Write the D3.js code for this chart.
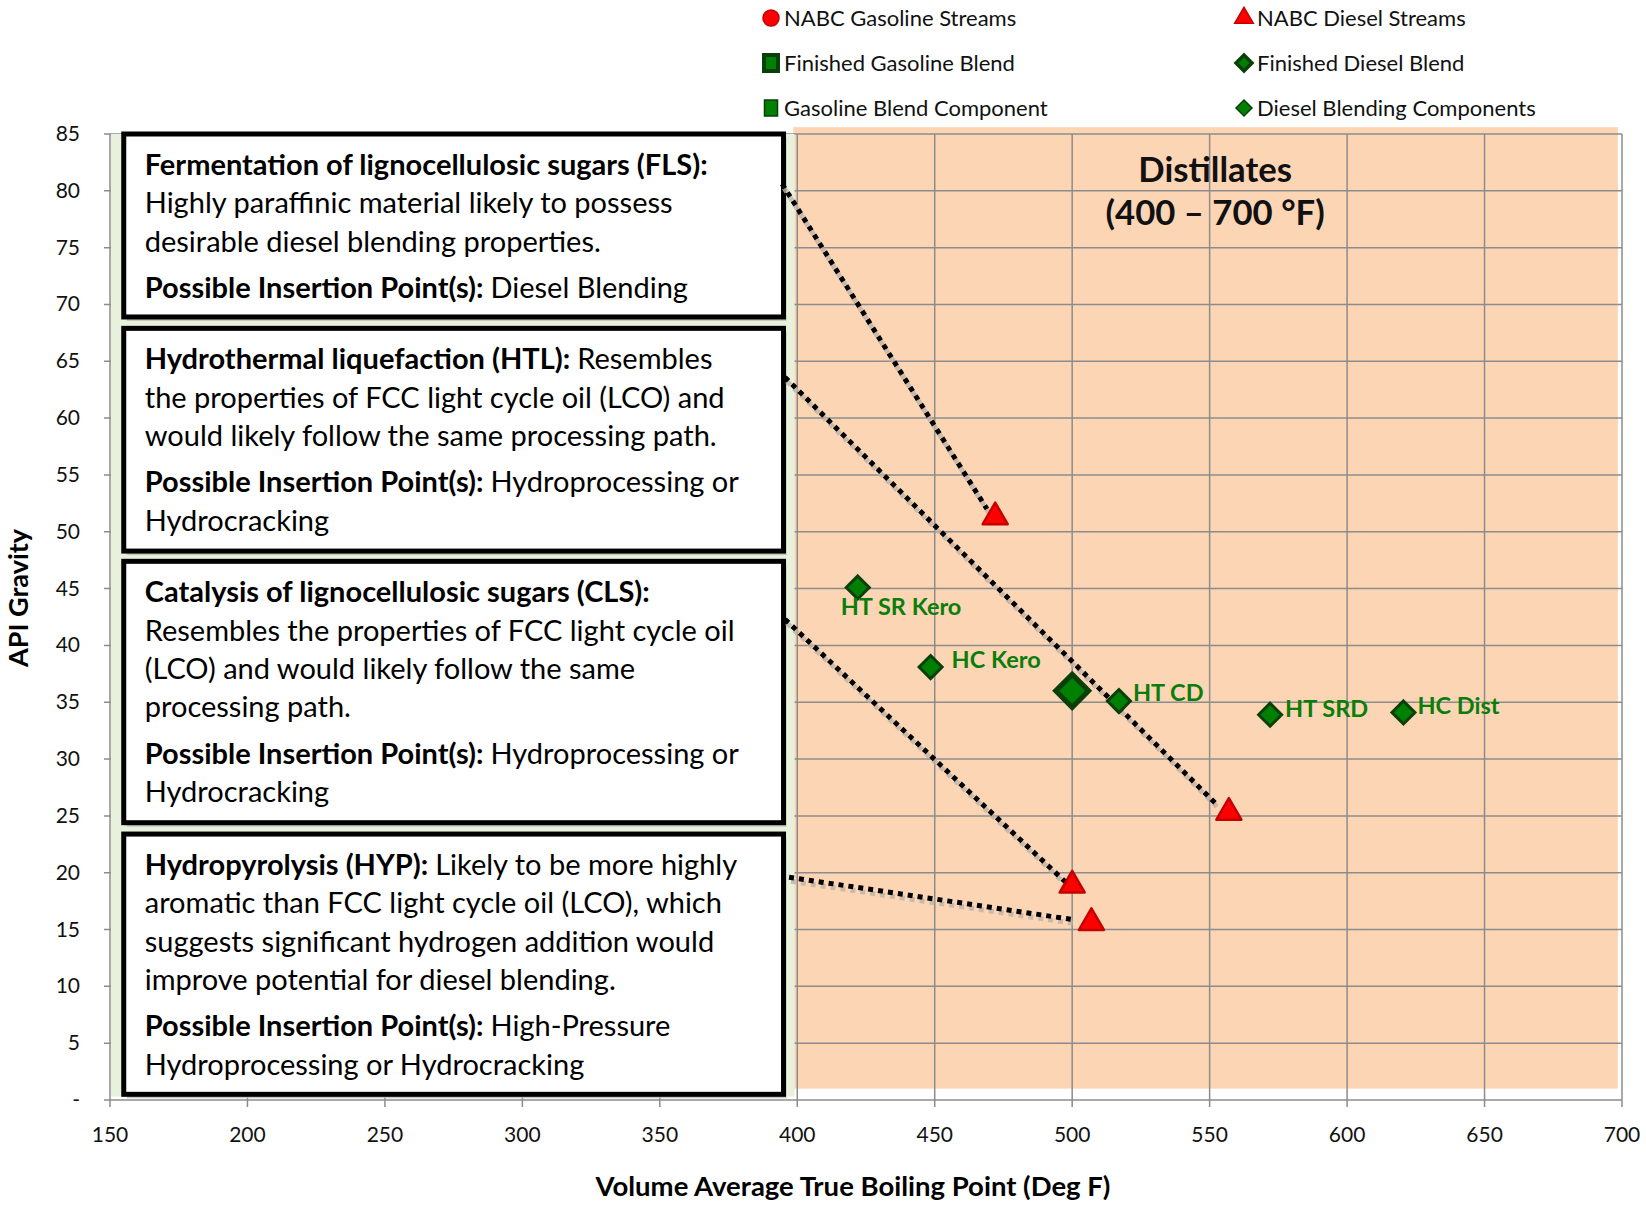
<!DOCTYPE html>
<html>
<head>
<meta charset="utf-8">
<script src="https://cdn.jsdelivr.net/npm/d3@7"></script>
<style>
  body { margin: 0; background: #fff; }
  text { font-family: Lato, "Open Sans", sans-serif; }
</style>
</head>
<body>
<svg width="1646" height="1206"></svg>
<script>
// ---- data ----
const xTicks = [150, 200, 250, 300, 350, 400, 450, 500, 550, 600, 650, 700];
const yTicks = [0, 5, 10, 15, 20, 25, 30, 35, 40, 45, 50, 55, 60, 65, 70, 75, 80, 85];

// NABC diesel streams (red triangles)
const dieselStreamX = [472, 557, 500, 507];
const dieselStreamY = [51.3, 25.3, 18.9, 15.6];

// finished diesel blend (large diamond)
const finishedDieselX = [500];
const finishedDieselY = [36.0];

// diesel blending components (small diamonds)
const componentNames = ["HT SR Kero", "HC Kero", "HT CD", "HT SRD", "HC Dist"];
const componentX = [422, 448.5, 517, 572, 620.5];
const componentY = [45.1, 38.1, 35.1, 33.9, 34.1];

// dotted connectors from the text boxes to the streams
const connectorFrom = [[394.5, 80.6], [395.5, 63.6], [395.5, 42.3], [397, 19.6]];
const connectorTo   = [[469, 52.0], [553, 25.9], [497.5, 19.2], [499.5, 15.9]];

// text boxes (data-space extents) and their contents
const boxX = [155, 395];
const boxY = [[85, 68.9], [67.9, 48.3], [47.4, 24.4], [23.4, 0.5]];
const boxLines = [
  [
    {p: 0, b: "Fermentation of lignocellulosic sugars (FLS):", t: ""},
    {p: 0, b: "", t: "Highly paraffinic material likely to possess"},
    {p: 0, b: "", t: "desirable diesel blending properties."},
    {p: 1, b: "Possible Insertion Point(s): ", t: "Diesel Blending"}
  ],
  [
    {p: 0, b: "Hydrothermal liquefaction (HTL): ", t: "Resembles"},
    {p: 0, b: "", t: "the properties of FCC light cycle oil (LCO) and"},
    {p: 0, b: "", t: "would likely follow the same processing path."},
    {p: 1, b: "Possible Insertion Point(s): ", t: "Hydroprocessing or"},
    {p: 1, b: "", t: "Hydrocracking"}
  ],
  [
    {p: 0, b: "Catalysis of lignocellulosic sugars (CLS):", t: ""},
    {p: 0, b: "", t: "Resembles the properties of FCC light cycle oil"},
    {p: 0, b: "", t: "(LCO) and would likely follow the same"},
    {p: 0, b: "", t: "processing path."},
    {p: 1, b: "Possible Insertion Point(s): ", t: "Hydroprocessing or"},
    {p: 1, b: "", t: "Hydrocracking"}
  ],
  [
    {p: 0, b: "Hydropyrolysis (HYP): ", t: "Likely to be more highly"},
    {p: 0, b: "", t: "aromatic than FCC light cycle oil (LCO), which"},
    {p: 0, b: "", t: "suggests significant hydrogen addition would"},
    {p: 0, b: "", t: "improve potential for diesel blending."},
    {p: 1, b: "Possible Insertion Point(s): ", t: "High-Pressure"},
    {p: 1, b: "", t: "Hydroprocessing or Hydrocracking"}
  ]
];

// shaded regions
const greenRegion = [150, 399, 0.3, 85];
const peachRegion = [398.5, 698.5, 1.0, 85.6];

const legendItems = [
  {label: "NABC Gasoline Streams", shape: "circle", col: 0, row: 0},
  {label: "NABC Diesel Streams", shape: "triangle", col: 1, row: 0},
  {label: "Finished Gasoline  Blend", shape: "bigsquare", col: 0, row: 1},
  {label: "Finished Diesel Blend", shape: "bigdiamond", col: 1, row: 1},
  {label: "Gasoline Blend Component", shape: "square", col: 0, row: 2},
  {label: "Diesel Blending Components", shape: "diamond", col: 1, row: 2}
];

// ---- chart ----
var svg = d3.select("svg"),
    width = +svg.attr("width"),
    height = +svg.attr("height");

var x = d3.scaleLinear().domain([150, 700]).range([110, 1622]),
    y = d3.scaleLinear().domain([0, 85]).range([1100, 134]);

const gridColor = "#8c8c8c",
      green = "#0b7d0b",
      darkGreen = "#0a3f0a",
      red = "#ff0000",
      darkRed = "#c40000";

// peach "distillates" band
svg.append("rect")
   .attr("x", x(peachRegion[0]))
   .attr("y", y(peachRegion[3]))
   .attr("width", x(peachRegion[1]) - x(peachRegion[0]))
   .attr("height", y(peachRegion[2]) - y(peachRegion[3]))
   .attr("fill", "#fcd5b5");

// gridlines
svg.append("g")
   .selectAll("line")
   .data(yTicks)
   .enter().append("line")
   .attr("x1", x(150) - 6).attr("x2", x(700))
   .attr("y1", d => y(d)).attr("y2", d => y(d))
   .attr("stroke", gridColor).attr("stroke-width", 1.5);

svg.append("g")
   .selectAll("line")
   .data(xTicks)
   .enter().append("line")
   .attr("x1", d => x(d)).attr("x2", d => x(d))
   .attr("y1", y(85)).attr("y2", y(0) + 7)
   .attr("stroke", gridColor).attr("stroke-width", 1.5);

// light green band behind the text boxes
svg.append("rect")
   .attr("x", x(greenRegion[0]) + 1)
   .attr("y", y(greenRegion[3]))
   .attr("width", x(greenRegion[1]) - x(greenRegion[0]) - 1)
   .attr("height", y(greenRegion[2]) - y(greenRegion[3]))
   .attr("fill", "#e8f1dc");

// axis tick labels
svg.append("g")
   .selectAll("text")
   .data(xTicks)
   .enter().append("text")
   .attr("x", d => x(d))
   .attr("y", 1142)
   .attr("text-anchor", "middle")
   .attr("font-size", 21)
   .attr("fill", "#111")
   .text(d => d);

svg.append("g")
   .selectAll("text")
   .data(yTicks)
   .enter().append("text")
   .attr("x", 80)
   .attr("y", d => y(d) + 7)
   .attr("text-anchor", "end")
   .attr("font-size", 21)
   .attr("fill", "#111")
   .text(d => d === 0 ? "-" : d);

// axis titles
svg.append("text")
   .attr("x", 853).attr("y", 1196)
   .attr("text-anchor", "middle")
   .attr("font-size", 27.5).attr("font-weight", "bold")
   .text("Volume Average True Boiling Point (Deg F)");

svg.append("text")
   .attr("transform", "translate(28,598) rotate(-90)")
   .attr("text-anchor", "middle")
   .attr("font-size", 27).attr("font-weight", "bold")
   .text("API Gravity");

// distillates label
var dist = svg.append("text")
   .attr("text-anchor", "middle")
   .attr("font-size", 34.7).attr("font-weight", "bold")
   .attr("fill", "#111");
dist.append("tspan").attr("x", x(552)).attr("y", 182).text("Distillates");
dist.append("tspan").attr("x", x(552)).attr("y", 225).text("(400 \u2013 700 \u00B0F)");

// text boxes
var boxes = svg.append("g")
   .selectAll("g")
   .data(boxY)
   .enter().append("g");

boxes.append("rect")
   .attr("x", x(boxX[0]) + 3)
   .attr("y", d => y(d[0]) + 4)
   .attr("width", x(boxX[1]) - x(boxX[0]))
   .attr("height", d => y(d[1]) - y(d[0]))
   .attr("fill", "#b9bfb2").attr("opacity", 0.8);

boxes.append("rect")
   .attr("x", x(boxX[0]))
   .attr("y", d => y(d[0]))
   .attr("width", x(boxX[1]) - x(boxX[0]))
   .attr("height", d => y(d[1]) - y(d[0]))
   .attr("fill", "#fff")
   .attr("stroke", "#000")
   .attr("stroke-width", 5);

boxes.each(function(d, i) {
  var top = y(d[0]);
  var lines = d3.select(this).selectAll("text.line")
     .data(boxLines[i])
     .enter().append("text")
     .attr("class", "line")
     .attr("x", x(boxX[0]) + 21)
     .attr("y", (l, j) => top + 41 + 38.3 * j + 8 * l.p)
     .attr("font-size", 29)
     .attr("fill", "#000");
  lines.append("tspan").attr("font-weight", "bold").text(l => l.b);
  lines.append("tspan").text(l => l.t);
});

// dotted connectors (shadow first)
var connectors = d3.zip(connectorFrom, connectorTo);
svg.append("g")
   .selectAll("line")
   .data(connectors)
   .enter().append("line")
   .attr("x1", d => x(d[0][0]) + 2).attr("y1", d => y(d[0][1]) + 4)
   .attr("x2", d => x(d[1][0]) + 2).attr("y2", d => y(d[1][1]) + 4)
   .attr("stroke", "#bdb3a8").attr("stroke-width", 5)
   .attr("stroke-dasharray", "5 5").attr("opacity", 0.8);

svg.append("g")
   .selectAll("line")
   .data(connectors)
   .enter().append("line")
   .attr("x1", d => x(d[0][0])).attr("y1", d => y(d[0][1]))
   .attr("x2", d => x(d[1][0])).attr("y2", d => y(d[1][1]))
   .attr("stroke", "#000").attr("stroke-width", 5)
   .attr("stroke-dasharray", "5 5");

// markers
const tri = d3.symbol().type(d3.symbolTriangle).size(270);
svg.append("g")
   .selectAll("path")
   .data(d3.zip(dieselStreamX, dieselStreamY))
   .enter().append("path")
   .attr("d", tri)
   .attr("transform", d => `translate(${x(d[0])},${y(d[1])})`)
   .attr("fill", red).attr("stroke", darkRed).attr("stroke-width", 2.5)
   .attr("stroke-linejoin", "round");

function diamond(s) {
  return `M0,${-s}L${s},0L0,${s}L${-s},0Z`;
}

svg.append("g")
   .selectAll("path")
   .data(d3.zip(componentX, componentY))
   .enter().append("path")
   .attr("d", diamond(11.5))
   .attr("transform", d => `translate(${x(d[0])},${y(d[1])})`)
   .attr("fill", "#008000").attr("stroke", darkGreen).attr("stroke-width", 3);

svg.append("g")
   .selectAll("path")
   .data(d3.zip(finishedDieselX, finishedDieselY))
   .enter().append("path")
   .attr("d", diamond(16.5))
   .attr("transform", d => `translate(${x(d[0])},${y(d[1])})`)
   .attr("fill", "#008000").attr("stroke", darkGreen).attr("stroke-width", 5);

// component labels
const labelDx = [-17, 21, 14, 15, 14],
      labelDy = [27, 0, -1, 1, 1];
svg.append("g")
   .selectAll("text")
   .data(componentNames)
   .enter().append("text")
   .attr("x", (d, i) => x(componentX[i]) + labelDx[i])
   .attr("y", (d, i) => y(componentY[i]) + labelDy[i] + 1)
   .attr("font-size", 23.5).attr("font-weight", "bold")
   .attr("fill", green)
   .text(d => d);

// legend
var legend = svg.append("g")
   .selectAll("g")
   .data(legendItems)
   .enter().append("g")
   .attr("transform", d => `translate(${d.col ? 1244 : 771},${18 + 45 * d.row})`);

legend.each(function(d) {
  var g = d3.select(this);
  if (d.shape === "circle") {
    g.append("circle").attr("r", 8).attr("fill", red).attr("stroke", darkRed).attr("stroke-width", 1.5);
  } else if (d.shape === "triangle") {
    g.append("path").attr("d", d3.symbol().type(d3.symbolTriangle).size(150))
     .attr("fill", red).attr("stroke", darkRed).attr("stroke-width", 1.5);
  } else if (d.shape === "bigsquare") {
    g.append("rect").attr("x", -7).attr("y", -8).attr("width", 14).attr("height", 16)
     .attr("fill", "#008000").attr("stroke", darkGreen).attr("stroke-width", 4);
  } else if (d.shape === "square") {
    g.append("rect").attr("x", -6.5).attr("y", -8).attr("width", 13).attr("height", 16)
     .attr("fill", "#008000").attr("stroke", darkGreen).attr("stroke-width", 1.5);
  } else if (d.shape === "bigdiamond") {
    g.append("path").attr("d", diamond(8)).attr("fill", "#008000")
     .attr("stroke", darkGreen).attr("stroke-width", 3.5);
  } else {
    g.append("path").attr("d", diamond(8)).attr("fill", "#008000")
     .attr("stroke", darkGreen).attr("stroke-width", 1.5);
  }
  g.append("text")
   .attr("x", 13).attr("y", 7.5)
   .attr("font-size", 22)
   .attr("fill", "#111")
   .text(d.label);
});
</script>
</body>
</html>
